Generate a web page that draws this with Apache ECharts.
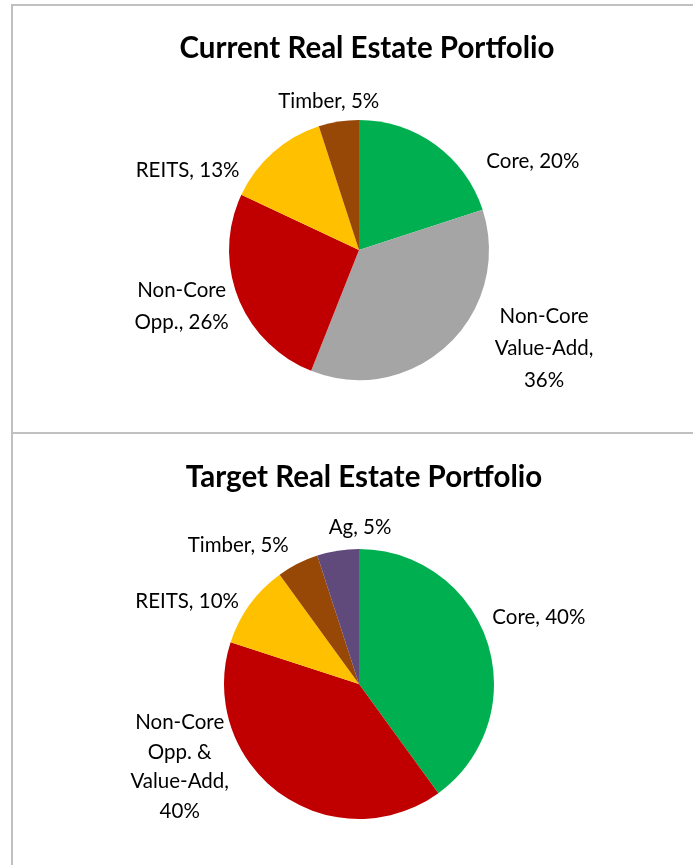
<!DOCTYPE html>
<html>
<head>
<meta charset="utf-8">
<script src="https://cdn.jsdelivr.net/npm/echarts@6.0.0/dist/echarts.min.js"></script>
<style>
  html, body { margin: 0; padding: 0; width: 693px; height: 865px; overflow: hidden; background: #fff; }
  .box { position: absolute; left: 11px; width: 720px; border: 2px solid #c0c0c0; box-sizing: border-box; }
  #top { top: 4px; height: 430px; }
  #bottom { top: 432px; height: 460px; }
  #chart { position: absolute; left: 0; top: 0; width: 693px; height: 865px; }
</style>
</head>
<body>
<div class="box" id="top"></div>
<div class="box" id="bottom"></div>
<div id="chart"></div>
<script>
  // current portfolio
  var currentNames = ["Core", "Non-Core\nValue-Add", "Non-Core\nOpp.", "REITS", "Timber"];
  var currentSeps = [", ", ",\n", ", ", ", ", ", "];
  var currentValues = [20, 36, 26, 13, 5];
  var currentColors = ["#00b050", "#a5a5a5", "#c00000", "#ffc000", "#974706"];

  // target portfolio
  var targetNames = ["Core", "Non-Core\nOpp. &\nValue-Add", "REITS", "Timber", "Ag"];
  var targetSeps = [", ", ",\n", ", ", ", ", ", "];
  var targetValues = [40, 40, 10, 5, 5];
  var targetColors = ["#00b050", "#c00000", "#ffc000", "#974706", "#604a7b"];

  // label nudges (px) so the labels sit where Excel's best fit put them
  var currentNudge = [[29, 34], [17, -12], [28, 0], [-10, 34], [53, 2]];
  var targetNudge = [[-25, -18], [-23, -44], [16, 10], [10, 1], [66, -2]];

  var FONT = "Lato";

  function buildData(names, seps, values, colors) {
    return names.map(function (n, i) {
      return { name: n, value: values[i], sep: seps[i], itemStyle: { color: colors[i] } };
    });
  }

  function pieSeries(data, center, radius, nudge, lh) {
    return {
      type: "pie",
      center: center,
      radius: radius,
      startAngle: 90,
      clockwise: true,
      avoidLabelOverlap: false,
      silent: true,
      animation: false,
      data: data,
      label: {
        show: true,
        position: "outside",
        color: "#000",
        fontFamily: FONT,
        fontSize: 20.5,
        lineHeight: lh,
        formatter: function (p) {
          var txt = p.name + p.data.sep + p.value + "%";
          if (txt.indexOf("\n") >= 0) {
            return "{t|" + txt + "}";
          }
          return txt;
        },
        rich: {
          t: { width: 110, align: "center", fontFamily: FONT, fontSize: 20.5, lineHeight: lh, color: "#000" }
        }
      },
      labelLine: { show: false, length: 22, length2: 4 },
      labelLayout: function (p) {
        var n = nudge[p.dataIndex];
        return { dx: n[0], dy: n[1], hideOverlap: false };
      }
    };
  }

  var chart = echarts.init(document.getElementById("chart"));
  chart.setOption({
    backgroundColor: "transparent",
    title: [
      {
        text: "Current Real Estate Portfolio",
        left: 362, top: 28, textAlign: "center",
        textStyle: { fontFamily: FONT, fontWeight: "bold", fontSize: 29.5, color: "#000" }
      },
      {
        text: "Target Real Estate Portfolio",
        left: 359, top: 457, textAlign: "center",
        textStyle: { fontFamily: FONT, fontWeight: "bold", fontSize: 29.5, color: "#000" }
      }
    ],
    series: [
      pieSeries(buildData(currentNames, currentSeps, currentValues, currentColors), [359, 250], 130, currentNudge, 32),
      pieSeries(buildData(targetNames, targetSeps, targetValues, targetColors), [359, 684], 135, targetNudge, 29.5)
    ]
  });
</script>
</body>
</html>
